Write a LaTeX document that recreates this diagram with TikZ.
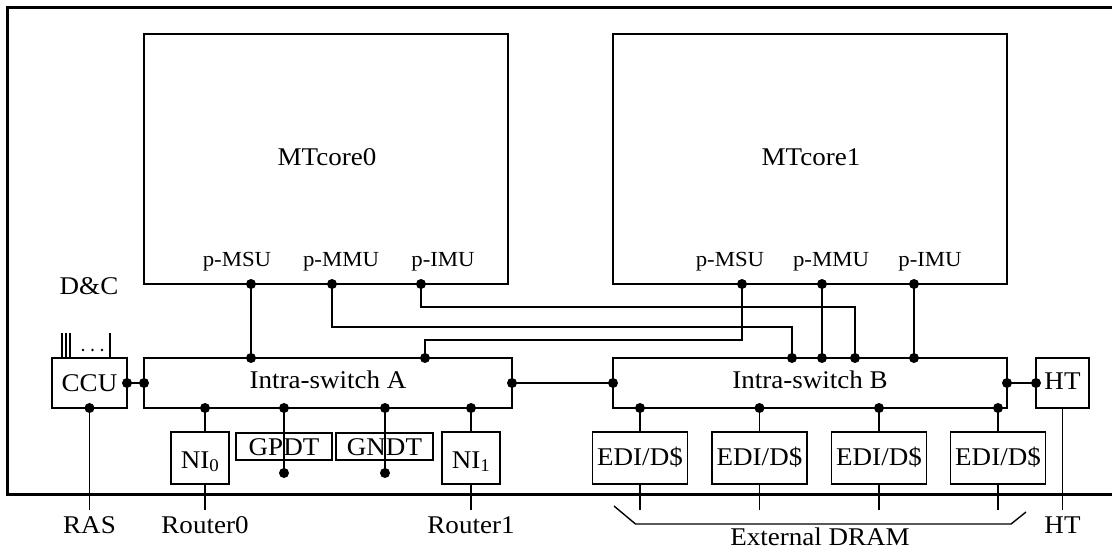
\documentclass[tikz,border=0pt]{standalone}
\usepackage{fontspec}
\setmainfont{Liberation Serif}[FakeStretch=1.06]
\newcommand{\mainsize}{\fontsize{25.5}{29}\selectfont}
\newcommand{\pinsize}{\fontsize{21.5}{24}\selectfont}
\begin{document}
\begin{tikzpicture}[x=1pt,y=-1pt,
  every node/.style={inner sep=0pt, outer sep=0pt},
  wire/.style={line width=1.4pt},
  box/.style={draw, line width=1.4pt, font=\mainsize, text depth=0pt},
  frame/.style={line width=3pt},
  pin/.style={circle, fill, inner sep=0pt, minimum size=10pt},
  lbl/.style={anchor=base, font=\mainsize},
  plbl/.style={anchor=base, font=\pinsize}]
\useasboundingbox (0,0) rectangle (1112,553);

% chip outline (open on the right)
\draw[frame] (1114,8) -| (7,494) -- (1114,494);

% cores
\node[box, minimum width=364pt, minimum height=250pt] (core0) at (326,159) {};
\node[box, minimum width=394pt, minimum height=250pt] (core1) at (810,159) {};
\node[lbl] at (327,166) {MTcore0};
\node[lbl] at (811,166) {MTcore1};
\node[plbl] at (237,267) {p-MSU};
\node[plbl] at (341,267) {p-MMU};
\node[plbl] at (443,267) {p-IMU};
\node[plbl] at (730,267) {p-MSU};
\node[plbl] at (831,267) {p-MMU};
\node[plbl] at (930,267) {p-IMU};

% switches and peripheral units
\node[box, minimum width=368pt, minimum height=50pt, text height=12pt] (swA) at (328,383) {Intra-switch A};
\node[box, minimum width=394pt, minimum height=50pt, text height=12pt] (swB) at (810,383) {Intra-switch B};
\node[box, minimum width=75pt, minimum height=50pt, text height=18pt] (ccu) at (89.5,383) {CCU};
\node[box, minimum width=53pt, minimum height=50pt, text height=14pt] (ht) at (1062.5,383) {HT};
\node[lbl] at (89,295) {D\&C};

\node[box, minimum width=58pt, minimum height=52pt, text height=20pt] (ni0) at (200,458) {NI\textsubscript{0}};
\node[box, minimum width=58pt, minimum height=52pt, text height=20pt] (ni1) at (471,458) {NI\textsubscript{1}};
\node[box, minimum width=96pt, minimum height=27pt, text height=17pt] (gpdt) at (284,446.5) {GPDT};
\node[box, minimum width=97pt, minimum height=27pt, text height=17pt] (gndt) at (384.5,446.5) {GNDT};

\node[box, minimum width=95pt, minimum height=52pt, text height=14pt] (edi1) at (640,458) {EDI/D\$};
\node[box, minimum width=95pt, minimum height=52pt, text height=14pt] (edi2) at (759.5,458) {EDI/D\$};
\node[box, minimum width=95pt, minimum height=52pt, text height=14pt] (edi3) at (879,458) {EDI/D\$};
\node[box, minimum width=95pt, minimum height=52pt, text height=14pt] (edi4) at (998,458) {EDI/D\$};

% CCU control lines
\coordinate (tk1) at (62,333);
\coordinate (tk2) at (66,333);
\coordinate (tk3) at (70,333);
\coordinate (tk4) at (110,333);
\foreach \t in {tk1,tk2,tk3,tk4} \draw[wire] (\t) -- (\t |- ccu.north);
\foreach \x in {83,92.5,102} \fill (\x,350) circle (1.4pt);

% port pins
\node[pin] (c0msu) at (251,284) {};
\node[pin] (c0mmu) at (332,284) {};
\node[pin] (c0imu) at (421,284) {};
\node[pin] (c1msu) at (742,284) {};
\node[pin] (c1mmu) at (822,284) {};
\node[pin] (c1imu) at (914,284) {};
\node[pin] (aMsu) at (251,358) {};
\node[pin] (aIn)  at (425,358) {};
\node[pin] (bMmu) at (792,358) {};
\node[pin] (bM1)  at (822,358) {};
\node[pin] (bImu) at (855,358) {};
\node[pin] (bI1)  at (914,358) {};
\node[pin] (aL) at (swA.west) {};
\node[pin] (aR) at (swA.east) {};
\node[pin] (bL) at (swB.west) {};
\node[pin] (bR) at (swB.east) {};
\node[pin] (ccuR) at (ccu.east) {};
\node[pin] (ccuB) at (ccu.south) {};
\node[pin] (htL) at (ht.west) {};
\node[pin] (aN0) at (205,408) {};
\node[pin] (aGp) at (284,408) {};
\node[pin] (aGn) at (385,408) {};
\node[pin] (aN1) at (471,408) {};
\node[pin] (gpE) at (284,473) {};
\node[pin] (gnE) at (385,473) {};
\node[pin] (bE1) at (edi1.center |- swB.south) {};
\node[pin] (bE2) at (edi2.center |- swB.south) {};
\node[pin] (bE3) at (edi3.center |- swB.south) {};
\node[pin] (bE4) at (edi4.center |- swB.south) {};

% core-to-switch wiring
\coordinate (busI) at (0,307);
\coordinate (busM) at (0,327);
\coordinate (busS) at (0,340);
\draw[wire] (c0msu.center) -- (aMsu.center);
\draw[wire] (c0imu.center) -- (c0imu.center |- busI) -| (bImu.center);
\draw[wire] (c0mmu.center) -- (c0mmu.center |- busM) -| (bMmu.center);
\draw[wire] (c1msu.center) -- (c1msu.center |- busS) -| (aIn.center);
\draw[wire] (c1mmu.center) -- (bM1.center);
\draw[wire] (c1imu.center) -- (bI1.center);

% side links
\draw[wire] (ccuR.center) -- (aL.center);
\draw[wire] (aR.center) -- (bL.center);
\draw[wire] (bR.center) -- (htL.center);

% lower units
\draw[wire] (aN0.center) -- (aN0.center |- ni0.north);
\draw[wire] (aN1.center) -- (aN1.center |- ni1.north);
\draw[wire] (aGp.center) -- (gpE.center);
\draw[wire] (aGn.center) -- (gnE.center);
\draw[wire] (bE1.center) -- (edi1.north);
\draw[wire] (bE2.center) -- (edi2.north);
\draw[wire] (bE3.center) -- (edi3.north);
\draw[wire] (bE4.center) -- (edi4.north);

% external leads
\coordinate (lead) at (0,510);
\draw[wire] (ccuB.center) -- (ccuB.center |- lead);
\draw[wire] (aN0.center |- ni0.south) -- (aN0.center |- lead);
\draw[wire] (aN1.center |- ni1.south) -- (aN1.center |- lead);
\draw[wire] (ht.south) -- (ht.south |- lead);
\foreach \e in {edi1,edi2,edi3,edi4} \draw[wire] (\e.south) -- (\e.south |- lead);

\node[lbl] (ras) at (89.5,533) {RAS};
\node[lbl] (r0) at (205,533) {Router0};
\node[lbl] (r1) at (471,533) {Router1};
\node[lbl] (htx) at (1062.5,533) {HT};

% DRAM bracket
\coordinate (br1) at (614,506);
\coordinate (br2) at (635.5,524);
\coordinate (br3) at (1011,524);
\coordinate (br4) at (1026,512);
\draw[wire] (br1) -- (br2) -- (br3) -- (br4);
\node[lbl] (dram) at (820,545) {External DRAM};
\end{tikzpicture}
\end{document}
